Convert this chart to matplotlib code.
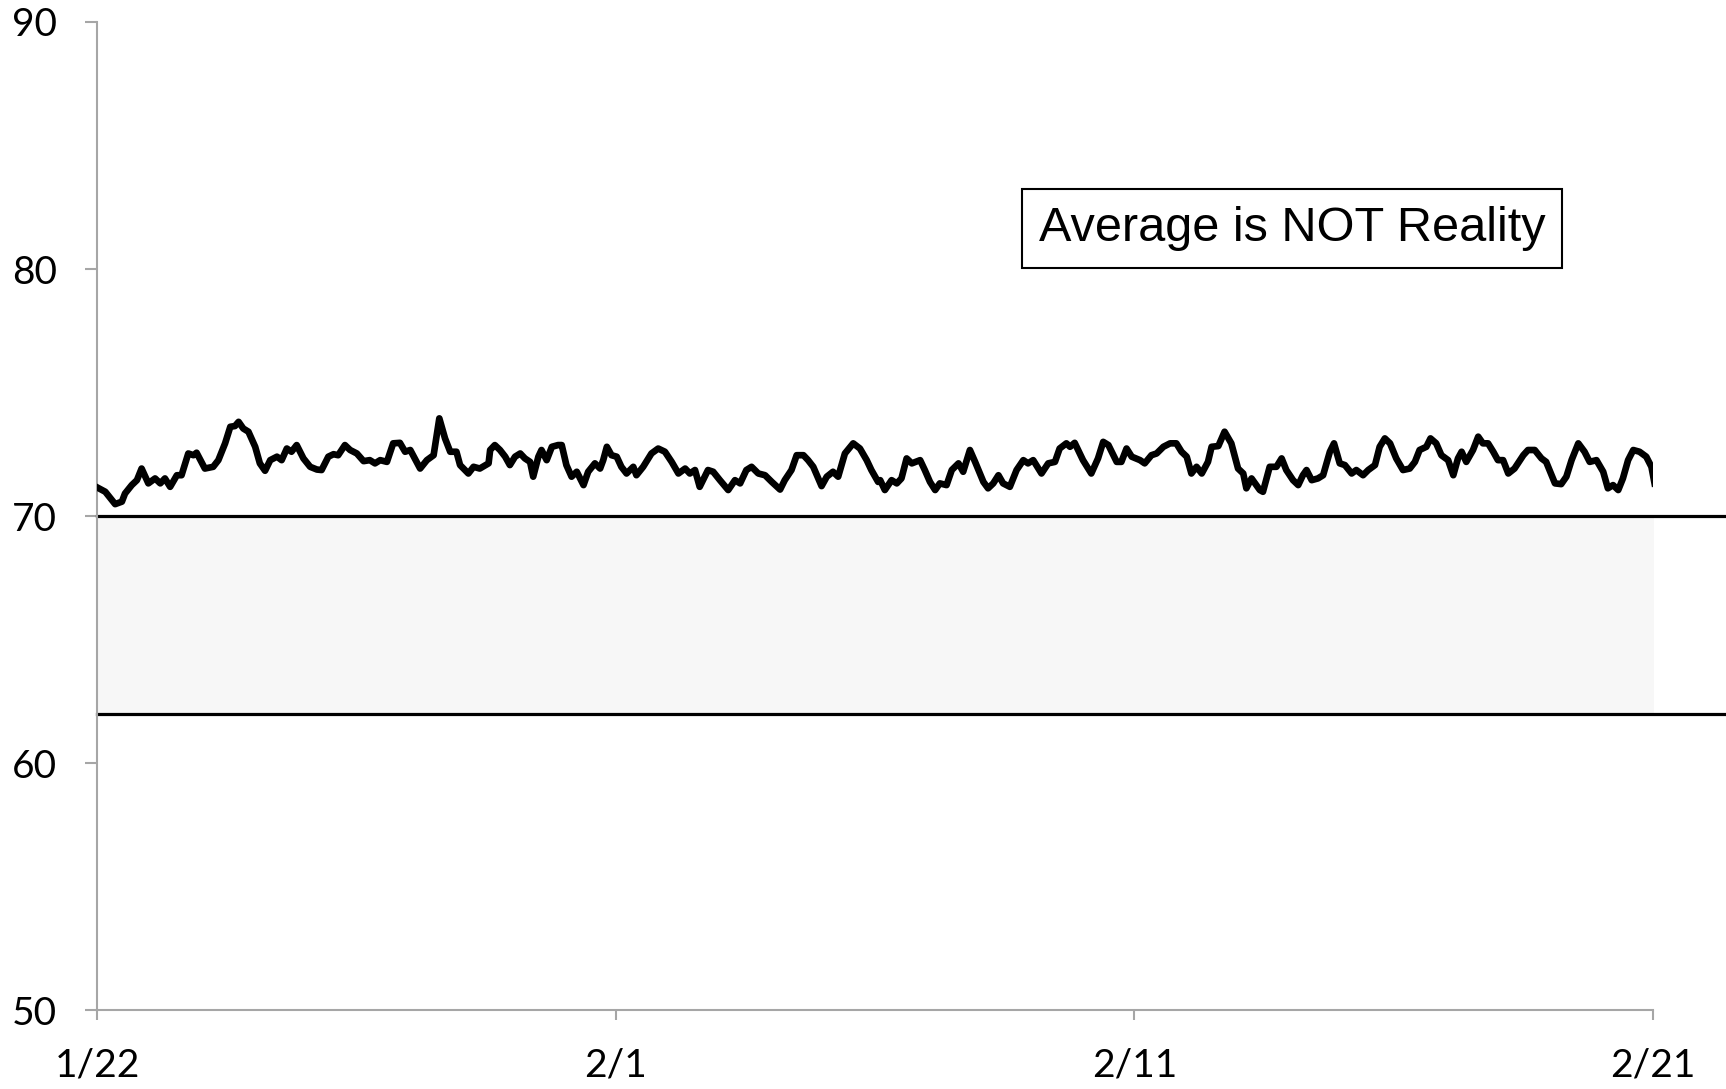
import matplotlib
matplotlib.use("Agg")
import matplotlib.pyplot as plt
import numpy as np

# Jours écoulés depuis le 22/1 et valeur mesurée
days = [
    0.00, 0.16, 0.35, 0.48, 0.54, 0.67, 0.77, 0.86, 0.99, 1.12, 1.22, 1.31, 1.41, 1.54, 1.63,
    1.76, 1.86, 1.92, 2.08, 2.24, 2.34, 2.47, 2.57, 2.66, 2.73, 2.82, 2.92, 3.05, 3.14, 3.24,
    3.34, 3.47, 3.56, 3.66, 3.75, 3.85, 3.98, 4.11, 4.24, 4.33, 4.46, 4.56, 4.65, 4.78, 4.88,
    5.01, 5.14, 5.26, 5.36, 5.46, 5.59, 5.71, 5.84, 5.94, 6.04, 6.23, 6.36, 6.49, 6.60, 6.71,
    6.81, 6.93, 7.00, 7.16, 7.26, 7.38, 7.55,
    7.58, 7.67, 7.77, 7.87, 7.96, 8.06, 8.16, 8.25, 8.35, 8.41, 8.51, 8.57, 8.67, 8.77, 8.89,
    8.96, 9.05, 9.15, 9.25, 9.38, 9.47, 9.60, 9.70, 9.76, 9.83, 9.92, 10.02, 10.11, 10.21, 10.34,
    10.40, 10.53, 10.69, 10.82, 10.95, 11.08, 11.21, 11.34, 11.43, 11.53, 11.62, 11.78, 11.88,
    12.01, 12.17, 12.30, 12.40, 12.52, 12.62, 12.75, 12.88, 13.01, 13.17, 13.26, 13.39, 13.49,
    13.62, 13.71, 13.81, 13.97, 14.07, 14.19, 14.29, 14.42, 14.58, 14.71, 14.84, 14.93, 15.06,
    15.10, 15.19, 15.32, 15.42, 15.51, 15.61, 15.71, 15.87, 15.96, 16.06, 16.16, 16.25, 16.38,
    16.48, 16.61, 16.70, 16.83, 16.93, 17.09, 17.18, 17.28, 17.38, 17.47, 17.60, 17.73, 17.86,
    17.95, 18.05, 18.21, 18.34, 18.47, 18.56, 18.69, 18.76, 18.85, 19.01, 19.17, 19.30, 19.40,
    19.50, 19.66, 19.75, 19.85, 19.95, 20.11, 20.20, 20.33, 20.43, 20.56, 20.69, 20.81, 20.91,
    21.01, 21.10, 21.20, 21.30, 21.42, 21.49, 21.62, 21.74, 21.87, 22.00, 22.10, 22.16, 22.26,
    22.42, 22.48,
    22.61, 22.74, 22.84, 22.93, 23.06, 23.16, 23.25, 23.32, 23.42, 23.54, 23.64, 23.77, 23.85,
    23.96, 24.06, 24.19, 24.28, 24.41, 24.51, 24.64, 24.73, 24.83, 24.93, 25.05, 25.18, 25.31,
    25.41, 25.50, 25.63, 25.71, 25.82, 25.92, 26.05, 26.15, 26.24, 26.31, 26.40, 26.53, 26.63,
    26.72, 26.82, 26.92, 27.01, 27.11, 27.21, 27.33, 27.50, 27.59, 27.72, 27.85, 27.94, 28.11,
    28.23, 28.33, 28.43, 28.56, 28.68, 28.78, 28.91, 29.04, 29.13, 29.23, 29.33, 29.42, 29.52,
    29.62, 29.74, 29.87, 29.97, 30.03,
]
values = [
    71.17, 70.99, 70.49, 70.59, 70.92, 71.26, 71.46, 71.93, 71.33, 71.53, 71.33, 71.53, 71.19, 71.66, 71.66,
    72.54, 72.47, 72.57, 71.93, 72.00, 72.27, 72.95, 73.62, 73.65, 73.82, 73.55, 73.42, 72.81, 72.14, 71.84,
    72.27, 72.41, 72.27, 72.74, 72.61, 72.88, 72.34, 72.00, 71.89, 71.87, 72.41, 72.51, 72.47, 72.88, 72.68,
    72.54, 72.23, 72.27, 72.14, 72.27, 72.20, 72.95, 72.97, 72.61, 72.68, 71.93, 72.27, 72.47, 73.96, 73.15,
    72.61, 72.61, 72.07, 71.73, 72.00, 71.93, 72.14,
    72.68, 72.88, 72.68, 72.41, 72.07, 72.41, 72.54, 72.34, 72.20, 71.60, 72.41, 72.68, 72.27, 72.81, 72.88,
    72.88, 72.07, 71.60, 71.80, 71.26, 71.80, 72.14, 71.93, 72.27, 72.81, 72.47, 72.41, 72.00, 71.73, 72.00,
    71.66, 72.00, 72.54, 72.74, 72.61, 72.20, 71.73, 71.93, 71.73, 71.87, 71.19, 71.87, 71.80,
    71.46, 71.06, 71.46, 71.33, 71.87, 72.00, 71.73, 71.66, 71.39, 71.08, 71.46, 71.87, 72.47,
    72.47, 72.27, 72.00, 71.22, 71.60, 71.80, 71.60, 72.54, 72.95, 72.74, 72.27, 71.87, 71.39,
    71.46, 71.06, 71.46, 71.33, 71.53, 72.34, 72.14, 72.27, 71.87, 71.39, 71.06, 71.33, 71.26,
    71.87, 72.14, 71.80, 72.68, 72.20, 71.39, 71.13, 71.33, 71.66, 71.33, 71.19, 71.87, 72.27,
    72.14, 72.27, 71.73, 72.14, 72.20, 72.74, 72.95, 72.81, 72.97, 72.27, 71.73, 72.34, 73.01,
    72.88, 72.20, 72.20, 72.74, 72.41, 72.27, 72.14, 72.47, 72.54, 72.81, 72.95, 72.95, 72.61,
    72.41, 71.73, 72.00, 71.73, 72.20, 72.81, 72.84, 73.42, 72.95, 71.93, 71.73, 71.13, 71.53,
    71.06, 70.99,
    72.00, 72.00, 72.34, 71.87, 71.46, 71.26, 71.66, 71.87, 71.46, 71.53, 71.66, 72.61, 72.95,
    72.14, 72.07, 71.73, 71.87, 71.66, 71.87, 72.07, 72.81, 73.15, 72.95, 72.34, 71.87, 71.93,
    72.20, 72.68, 72.81, 73.15, 72.95, 72.47, 72.27, 71.66, 72.34, 72.61, 72.20, 72.68, 73.22,
    72.95, 72.95, 72.61, 72.27, 72.27, 71.73, 71.93, 72.47, 72.68, 72.68, 72.34, 72.20, 71.33,
    71.30, 71.60, 72.27, 72.95, 72.61, 72.20, 72.27, 71.80, 71.13, 71.26, 71.06, 71.53, 72.27,
    72.68, 72.61, 72.41, 72.00, 71.33,
]

# Bande de confort
band_low = 62
band_high = 70
band_end = 30.08
line_end = 31.4

x_ticks = [0, 10, 20, 30]
x_labels = ["1/22", "2/1", "2/11", "2/21"]
y_ticks = [50, 60, 70, 80, 90]

plt.rcParams["font.family"] = ["Lato", "DejaVu Sans"]

fig = plt.figure(figsize=(17.26, 10.89), dpi=100)
ax = fig.add_axes([0.0562, 0.0721, 0.9015, 0.9077])

ax.fill_between([-0.1, band_end], band_low, band_high, color="#f7f7f7", lw=0, zorder=1)
ax.plot([0, line_end], [band_high, band_high], color="black", lw=2.3, clip_on=False, zorder=2)
ax.plot([0, line_end], [band_low, band_low], color="black", lw=2.3, clip_on=False, zorder=2)

ax.plot(days, values, color="black", lw=4.8, solid_joinstyle="round", zorder=3)

ax.set_xlim(0, 30)
ax.set_ylim(50, 90)
ax.set_xticks(x_ticks)
ax.set_xticklabels(x_labels)
ax.set_yticks(y_ticks)

for side in ["top", "right"]:
    ax.spines[side].set_visible(False)
for side in ["left", "bottom"]:
    ax.spines[side].set_color("#a6a6a6")
    ax.spines[side].set_linewidth(1.5)

ax.tick_params(axis="y", direction="out", length=9, width=1.5, color="#a6a6a6",
               labelsize=28, pad=20)
ax.tick_params(axis="x", direction="out", length=7, width=1.5, color="#a6a6a6",
               labelsize=28, pad=20)

ax.text(0.768, 81.66, "Average is NOT Reality", transform=ax.get_yaxis_transform(),
        ha="center", va="center", fontsize=35, family="Liberation Sans",
        bbox=dict(boxstyle="square,pad=0.35", fc="white", ec="black", lw=1.5), zorder=5)

fig.savefig("out.png", dpi=100)
